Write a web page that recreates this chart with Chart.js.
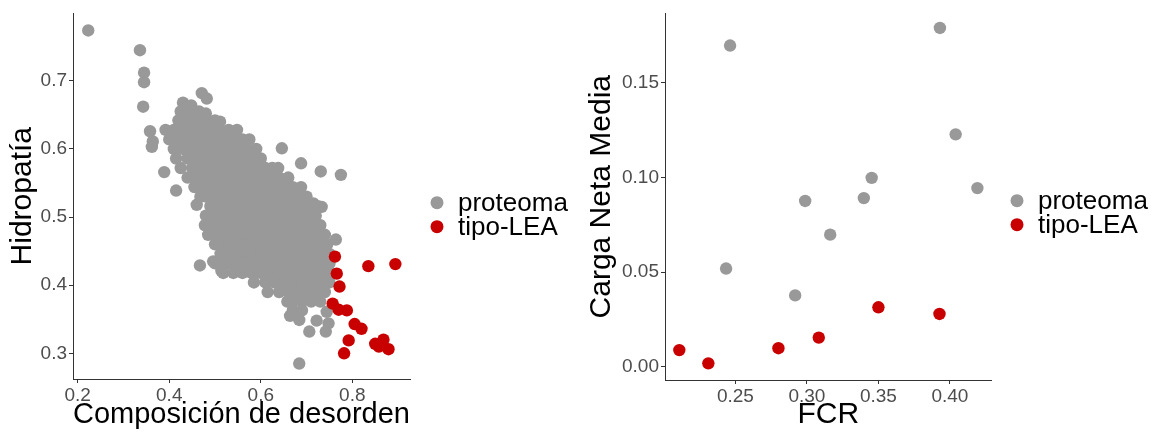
<!DOCTYPE html>
<html lang="es">
<head>
<meta charset="utf-8">
<title>Hidropatía y carga neta</title>
<script src="https://cdn.jsdelivr.net/npm/chart.js@4.4.1/dist/chart.umd.min.js"></script>
<style>
    html, body { margin: 0; padding: 0; background: #fff; }
    #left-panel { position: absolute; left: 0; top: 0; }
    #right-panel { position: absolute; left: 580px; top: 0; }
</style>
</head>
<body>
<canvas id="left-panel" width="580" height="434"></canvas>
<canvas id="right-panel" width="581" height="434"></canvas>
<script>
"use strict";

const FONT = 'Arial, "Liberation Sans", sans-serif';
const GRAY = '#999999';
const RED = '#C80000';

const seriesNames = ['proteoma', 'tipo-LEA'];

// panel izquierdo: [composición de desorden, hidropatía]
const proteomaAislados = [
    [0.223, 0.774], [0.336, 0.745], [0.345, 0.712], [0.345, 0.698], [0.343, 0.662],
    [0.358, 0.626], [0.364, 0.611], [0.362, 0.603], [0.389, 0.566], [0.415, 0.539],
    [0.460, 0.518], [0.471, 0.682], [0.482, 0.674], [0.646, 0.601], [0.688, 0.579],
    [0.731, 0.567], [0.775, 0.562], [0.764, 0.467], [0.733, 0.515], [0.715, 0.520],
    [0.467, 0.429], [0.496, 0.435], [0.514, 0.421], [0.684, 0.285], [0.706, 0.332],
    [0.722, 0.348], [0.748, 0.344], [0.742, 0.332], [0.664, 0.355], [0.684, 0.349],
    [0.744, 0.361]
];

// núcleo denso de la nube, leído fila por fila
const proteomaNucleo = [
    [0.430, 0.668], [0.448, 0.664],
    [0.425, 0.655], [0.445, 0.655], [0.465, 0.655], [0.480, 0.652],
    [0.42, 0.642], [0.44, 0.642], [0.46, 0.642], [0.48, 0.642], [0.50, 0.642], [0.511, 0.640],
    [0.392, 0.628], [0.41, 0.628], [0.43, 0.628], [0.45, 0.628], [0.47, 0.628], [0.49, 0.628],
    [0.51, 0.628], [0.53, 0.628], [0.548, 0.628],
    [0.40, 0.614], [0.42, 0.614], [0.44, 0.614], [0.46, 0.614], [0.48, 0.614], [0.50, 0.614],
    [0.52, 0.614], [0.54, 0.614], [0.56, 0.614], [0.575, 0.614],
    [0.41, 0.600], [0.43, 0.600], [0.45, 0.600], [0.47, 0.600], [0.49, 0.600], [0.51, 0.600],
    [0.53, 0.600], [0.55, 0.600], [0.57, 0.600], [0.59, 0.600],
    [0.415, 0.586], [0.44, 0.586], [0.46, 0.586], [0.48, 0.586], [0.50, 0.586], [0.52, 0.586],
    [0.54, 0.586], [0.56, 0.586], [0.58, 0.586], [0.60, 0.586],
    [0.425, 0.572], [0.45, 0.572], [0.47, 0.572], [0.49, 0.572], [0.51, 0.572], [0.53, 0.572],
    [0.55, 0.572], [0.57, 0.572], [0.59, 0.572], [0.61, 0.572], [0.625, 0.572], [0.638, 0.572],
    [0.44, 0.558], [0.46, 0.558], [0.48, 0.558], [0.50, 0.558], [0.52, 0.558], [0.54, 0.558],
    [0.56, 0.558], [0.58, 0.558], [0.60, 0.558], [0.62, 0.558], [0.64, 0.558], [0.66, 0.558],
    [0.455, 0.544], [0.47, 0.544], [0.49, 0.544], [0.51, 0.544], [0.53, 0.544], [0.55, 0.544],
    [0.57, 0.544], [0.59, 0.544], [0.61, 0.544], [0.63, 0.544], [0.65, 0.544], [0.67, 0.544],
    [0.688, 0.544],
    [0.468, 0.530], [0.48, 0.530], [0.50, 0.530], [0.52, 0.530], [0.54, 0.530], [0.56, 0.530],
    [0.58, 0.530], [0.60, 0.530], [0.62, 0.530], [0.64, 0.530], [0.66, 0.530], [0.68, 0.530],
    [0.70, 0.530],
    [0.49, 0.516], [0.51, 0.516], [0.53, 0.516], [0.55, 0.516], [0.57, 0.516], [0.59, 0.516],
    [0.61, 0.516], [0.63, 0.516], [0.65, 0.516], [0.67, 0.516], [0.69, 0.516], [0.71, 0.516],
    [0.725, 0.516],
    [0.48, 0.502], [0.50, 0.502], [0.52, 0.502], [0.54, 0.502], [0.56, 0.502], [0.58, 0.502],
    [0.60, 0.502], [0.62, 0.502], [0.64, 0.502], [0.66, 0.502], [0.68, 0.502], [0.70, 0.502],
    [0.72, 0.502],
    [0.478, 0.488], [0.49, 0.488], [0.51, 0.488], [0.53, 0.488], [0.55, 0.488], [0.57, 0.488],
    [0.59, 0.488], [0.61, 0.488], [0.63, 0.488], [0.65, 0.488], [0.67, 0.488], [0.69, 0.488],
    [0.71, 0.488], [0.73, 0.488],
    [0.485, 0.474], [0.50, 0.474], [0.52, 0.474], [0.54, 0.474], [0.56, 0.474], [0.58, 0.474],
    [0.60, 0.474], [0.62, 0.474], [0.64, 0.474], [0.66, 0.474], [0.68, 0.474], [0.70, 0.474],
    [0.72, 0.474], [0.74, 0.474],
    [0.50, 0.460], [0.51, 0.460], [0.53, 0.460], [0.55, 0.460], [0.57, 0.460], [0.59, 0.460],
    [0.61, 0.460], [0.63, 0.460], [0.65, 0.460], [0.67, 0.460], [0.69, 0.460], [0.71, 0.460],
    [0.73, 0.460], [0.745, 0.460],
    [0.512, 0.446], [0.52, 0.446], [0.54, 0.446], [0.56, 0.446], [0.58, 0.446], [0.60, 0.446],
    [0.62, 0.446], [0.64, 0.446], [0.66, 0.446], [0.68, 0.446], [0.70, 0.446], [0.72, 0.446],
    [0.74, 0.446], [0.750, 0.446],
    [0.50, 0.432], [0.51, 0.432], [0.53, 0.432], [0.55, 0.432], [0.57, 0.432], [0.59, 0.432],
    [0.61, 0.432], [0.63, 0.432], [0.65, 0.432], [0.67, 0.432], [0.69, 0.432], [0.71, 0.432],
    [0.73, 0.432], [0.75, 0.432],
    [0.518, 0.418], [0.54, 0.418], [0.56, 0.418], [0.58, 0.418], [0.60, 0.418], [0.62, 0.418],
    [0.64, 0.418], [0.66, 0.418], [0.68, 0.418], [0.70, 0.418], [0.72, 0.418], [0.74, 0.418],
    [0.752, 0.418],
    [0.585, 0.404], [0.61, 0.404], [0.63, 0.404], [0.65, 0.404], [0.67, 0.404], [0.69, 0.404],
    [0.71, 0.404], [0.73, 0.404], [0.75, 0.404],
    [0.615, 0.390], [0.64, 0.390], [0.66, 0.390], [0.68, 0.390], [0.70, 0.390], [0.72, 0.390],
    [0.74, 0.390],
    [0.658, 0.376], [0.67, 0.376], [0.69, 0.376], [0.71, 0.376], [0.73, 0.376],
    [0.670, 0.363], [0.690, 0.363]
];

const leaIzquierda = [
    [0.762, 0.442], [0.766, 0.417], [0.772, 0.398], [0.757, 0.373], [0.770, 0.364],
    [0.788, 0.363], [0.805, 0.343], [0.820, 0.336], [0.792, 0.319], [0.782, 0.300],
    [0.835, 0.428], [0.894, 0.431], [0.850, 0.314], [0.858, 0.310], [0.868, 0.320],
    [0.879, 0.306]
];

// panel derecho: [FCR, carga neta media]
const proteomaDerecha = [
    [0.2463, 0.1697], [0.393, 0.179], [0.404, 0.1228], [0.3453, 0.0998], [0.4192, 0.0944],
    [0.3398, 0.0891], [0.2988, 0.0876], [0.3163, 0.0698], [0.2435, 0.0519], [0.2918, 0.0377]
];

const leaDerecha = [
    [0.2108, 0.0088], [0.2311, 0.0018], [0.2801, 0.0098], [0.3083, 0.0154], [0.35, 0.0314],
    [0.3927, 0.0279]
];

const leftXTicks = [0.2, 0.4, 0.6, 0.8];
const leftYTicks = [0.3, 0.4, 0.5, 0.6, 0.7];
const rightXTicks = [0.25, 0.30, 0.35, 0.40];
const rightYTicks = [0.00, 0.05, 0.10, 0.15];


const toPoints = (pairs) => pairs.map(p => ({x: p[0], y: p[1]}));

// leyenda dibujada a mano para poder fijar la posición de los puntos y el texto
const dotLegend = {
    id: 'dotLegend',
    afterDraw(chart, args, opts) {
        const c = chart.ctx;
        c.save();
        c.font = '26px ' + FONT;
        c.textBaseline = 'middle';
        c.textAlign = 'left';
        chart.data.datasets.forEach((ds, i) => {
            const y = opts.y + i * 24;
            c.fillStyle = ds.backgroundColor;
            c.beginPath();
            c.arc(opts.x, y, 6.5, 0, Math.PI * 2);
            c.fill();
            c.fillStyle = '#000';
            c.fillText(ds.label, opts.x + 21, y + 1);
        });
        c.restore();
    }
};

function fixedTicks(values) {
    return function (scale) {
        scale.ticks = values.map(v => ({value: v}));
    };
}

function makeScatter(canvasId, gray, red, cfg) {
    const ctx = document.getElementById(canvasId).getContext('2d');
    return new Chart(ctx, {
        type: 'scatter',
        data: {
            datasets: [{
                label: seriesNames[0],
                data: toPoints(gray),
                backgroundColor: GRAY,
                borderWidth: 0,
                pointRadius: 6.2,
                order: 1
            }, {
                label: seriesNames[1],
                data: toPoints(red),
                backgroundColor: RED,
                borderWidth: 0,
                pointRadius: 6.2,
                order: 0
            }]
        },
        options: {
            responsive: false,
            animation: false,
            events: [],
            layout: {
                padding: {left: 0, top: cfg.top, right: cfg.right, bottom: 0}
            },
            scales: {
                x: {
                    type: 'linear',
                    min: cfg.xMin,
                    max: cfg.xMax,
                    afterBuildTicks: fixedTicks(cfg.xTicks),
                    afterFit: (scale) => { scale.height = cfg.xHeight; },
                    border: {display: true, color: '#333333', width: 1},
                    grid: {drawOnChartArea: false, tickLength: 4, color: '#333333'},
                    ticks: {
                        padding: 1,
                        color: '#4D4D4D',
                        font: {family: FONT, size: 19},
                        callback: (v) => v.toFixed(cfg.xDigits)
                    },
                    title: {
                        display: true,
                        text: cfg.xTitle,
                        color: '#000',
                        font: {family: FONT, size: 30},
                        padding: {top: 0, bottom: 1}
                    }
                },
                y: {
                    type: 'linear',
                    min: cfg.yMin,
                    max: cfg.yMax,
                    afterBuildTicks: fixedTicks(cfg.yTicks),
                    afterFit: (scale) => { scale.width = cfg.yWidth; },
                    border: {display: true, color: '#333333', width: 1},
                    grid: {drawOnChartArea: false, tickLength: 4, color: '#333333'},
                    ticks: {
                        padding: 2,
                        color: '#4D4D4D',
                        font: {family: FONT, size: 19},
                        callback: (v) => v.toFixed(cfg.yDigits)
                    },
                    title: {
                        display: true,
                        text: cfg.yTitle,
                        color: '#000',
                        font: {family: FONT, size: 30},
                        padding: {top: cfg.yTitlePad, bottom: 0}
                    }
                }
            },
            plugins: {
                legend: {display: false},
                tooltip: {enabled: false},
                dotLegend: {x: 437, y: cfg.legendY}
            }
        },
        plugins: [dotLegend]
    });
}


const leftChart = makeScatter('left-panel', proteomaAislados.concat(proteomaNucleo), leaIzquierda, {
    top: 13, right: 170, xHeight: 55, yWidth: 73,
    xMin: 0.1897, xMax: 0.926, yMin: 0.2623, yMax: 0.799,
    xTicks: leftXTicks, yTicks: leftYTicks, xDigits: 1, yDigits: 1,
    xTitle: 'Composición de desorden', yTitle: 'Hidropatía', yTitlePad: 5,
    legendY: 202.7
});

const rightChart = makeScatter('right-panel', proteomaDerecha, leaDerecha, {
    top: 12, right: 169.3, xHeight: 54, yWidth: 85,
    xMin: 0.2008, xMax: 0.4292, yMin: -0.007, yMax: 0.1867,
    xTicks: rightXTicks, yTicks: rightYTicks, xDigits: 2, yDigits: 2,
    xTitle: 'FCR', yTitle: 'Carga Neta Media', yTitlePad: 4,
    legendY: 200.7
});
</script>
</body>
</html>
